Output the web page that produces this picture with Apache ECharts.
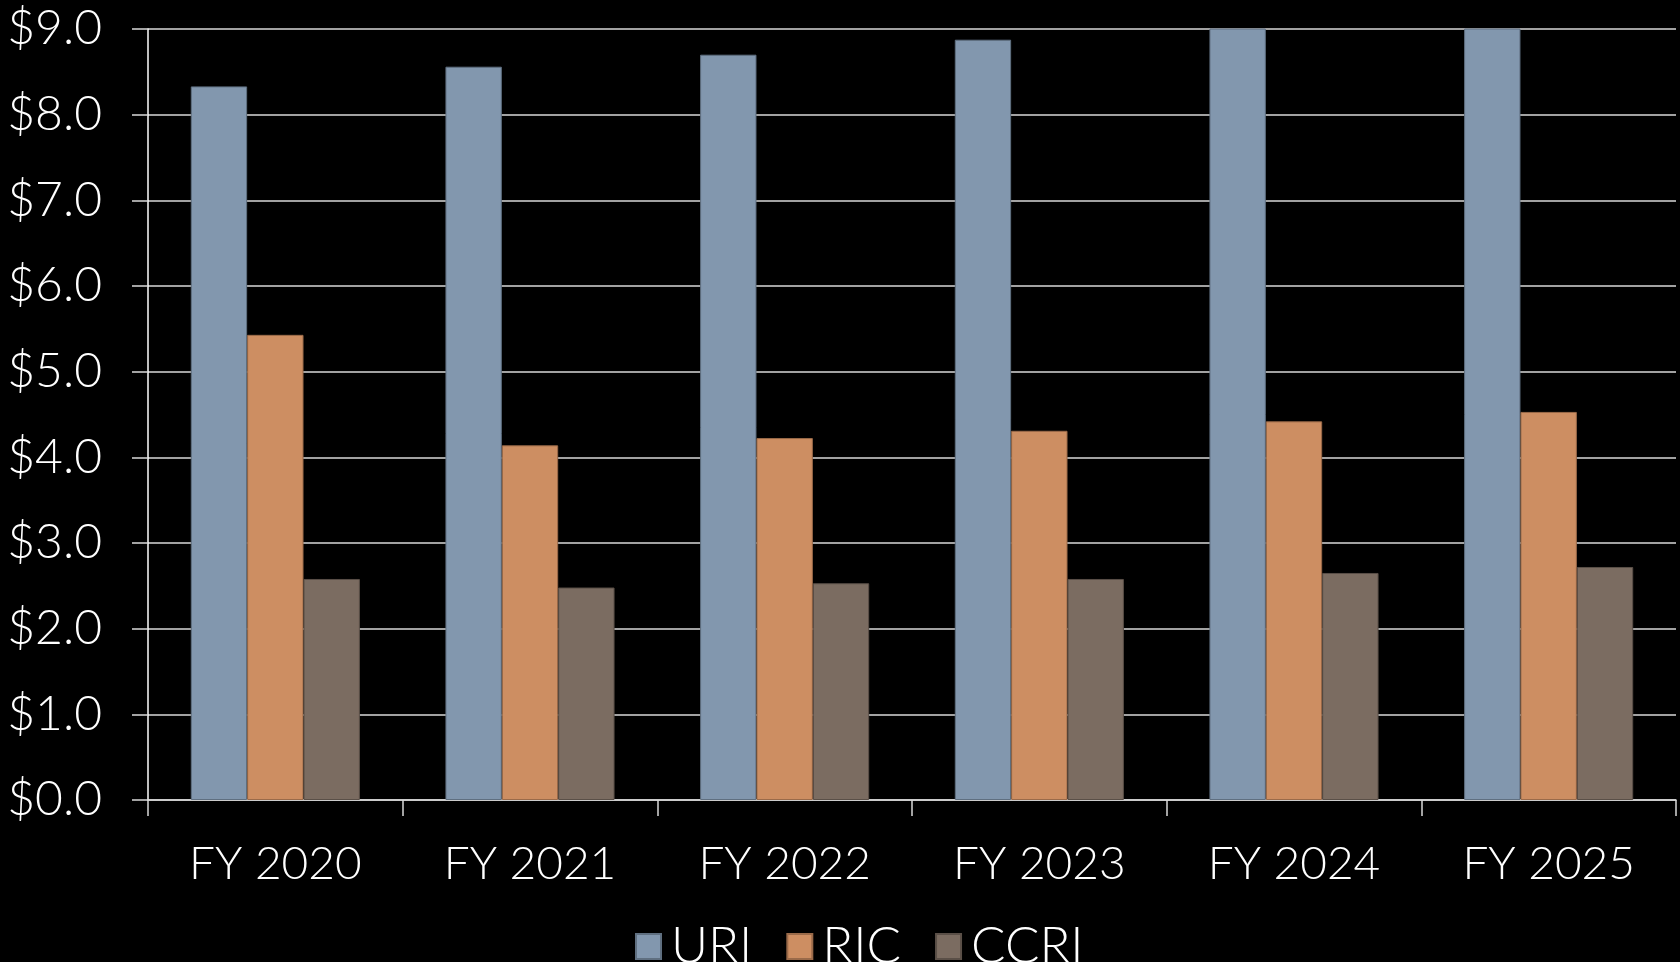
<!DOCTYPE html>
<html>
<head>
<meta charset="utf-8">
<script src="https://cdn.jsdelivr.net/npm/echarts@6/dist/echarts.min.js"></script>
<style>
  html, body { margin: 0; padding: 0; background: #000; }
  #chart { width: 1680px; height: 962px; }
</style>
</head>
<body>
<div id="chart"></div>
<script>
// fiscal years on the x axis
const years = ['FY 2020', 'FY 2021', 'FY 2022', 'FY 2023', 'FY 2024', 'FY 2025']
// values in $ (millions); FY 2024/25 URI run past the top
const uriData = [8.33, 8.56, 8.70, 8.875, 9.05, 9.2]
const ricData = [5.43, 4.14, 4.225, 4.31, 4.42, 4.53]
const ccriData = [2.58, 2.48, 2.53, 2.58, 2.65, 2.72]
const seriesNames = ['URI', 'RIC', 'CCRI']
const seriesColors = ['#8297ae', '#cd8e62', '#7b6c61']
const borderColors = ['#5f6f80', '#9a6a49', '#5a4f47']

const font = 'Lato, "Open Sans", sans-serif'

const chart = echarts.init(document.getElementById('chart'))

const seriesData = [uriData, ricData, ccriData].map(function (data, i) {
  return {
    name: seriesNames[i],
    type: 'bar',
    data: data,
    clip: true,
    barGap: '0%',
    barCategoryGap: '33.6%',
    itemStyle: {
      color: seriesColors[i],
      borderColor: borderColors[i],
      borderWidth: 1
    }
  }
})

chart.setOption({
  backgroundColor: '#000',
  animation: false,
  grid: {
    left: 148,
    right: 4,
    top: 29,
    bottom: 162
  },
  legend: {
    data: seriesNames,
    left: 630,
    top: 916,
    itemWidth: 25,
    itemHeight: 25,
    itemGap: 34,
    icon: 'rect',
    textStyle: {
      color: '#fff',
      fontFamily: font,
      fontWeight: 300,
      fontSize: 51,
      padding: [0, 0, 0, 5]
    }
  },
  xAxis: {
    type: 'category',
    data: years,
    axisLine: { lineStyle: { color: '#d9d9d9', width: 1.5 } },
    axisTick: { show: true, length: 16, lineStyle: { color: '#d9d9d9', width: 1.5 } },
    axisLabel: {
      color: '#fff',
      fontFamily: font,
      fontWeight: 300,
      fontSize: 46,
      margin: 41
    }
  },
  yAxis: {
    type: 'value',
    min: 0,
    max: 9,
    interval: 1,
    axisLine: { show: true, lineStyle: { color: '#fff', width: 1.5 } },
    axisTick: { show: true, length: 16, lineStyle: { color: '#d9d9d9', width: 1.5 } },
    splitLine: { lineStyle: { color: '#d9d9d9', width: 1.5 } },
    axisLabel: {
      color: '#fff',
      fontFamily: font,
      fontWeight: 300,
      fontSize: 48,
      margin: 46,
      formatter: function (v) { return '$' + v.toFixed(1) }
    }
  },
  series: seriesData
})
</script>
</body>
</html>
